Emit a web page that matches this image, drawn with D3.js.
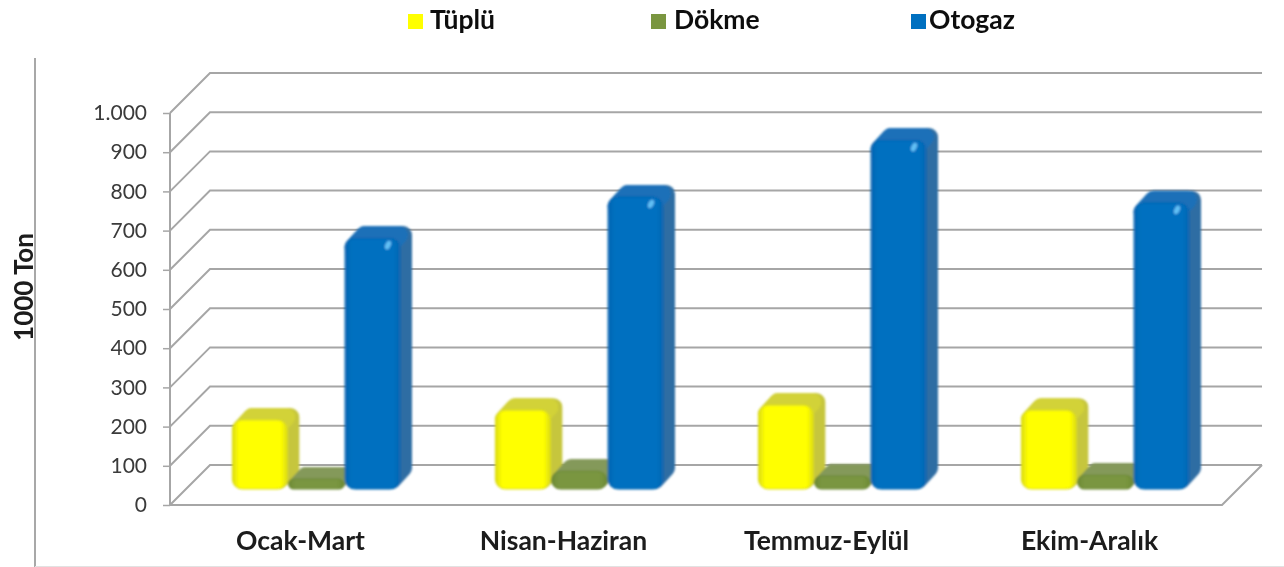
<!DOCTYPE html>
<html><head><meta charset="utf-8">
<script src="https://cdn.jsdelivr.net/npm/d3@7/dist/d3.min.js"></script>
<style>html,body{margin:0;padding:0;background:#fff}svg{display:block}</style>
</head><body><svg id="c" width="1284" height="567"></svg>
<script>
const categories = ["Ocak-Mart","Nisan-Haziran","Temmuz-Eylül","Ekim-Aralık"];
const seriesNames = ["Tüplü","Dökme","Otogaz"];
const tuplu = [176,201,214,201];
const dokme = [25,45,33,35];
const otogaz = [640,745,890,730];
const tickValues = [0,100,200,300,400,500,600,700,800,900,1000];
const tickLabels = ["0","100","200","300","400","500","600","700","800","900","1.000"];
const frontColors = ["#ffff00","#7a963f","#0070c0"];
const edgeColors = ["#dcdc18","#6d8a36","#0a66b2"];
const topColors = ["#d2d238","#84995a","#1c70b8"];
const sideColors = ["#c6c63c","#7c9450","#2f6da3"];
const legendX = [408,651,911];
const legendTextX = [430,674,929];
const font = "Lato,'Open Sans',sans-serif";

const svg = d3.select("#c");
const defs = svg.append("defs");
const mkFilter=(id,sd)=>defs.append("filter").attr("id",id).attr("filterUnits","userSpaceOnUse")
  .attr("x",0).attr("y",0).attr("width",1284).attr("height",567)
  .append("feGaussianBlur").attr("stdDeviation",sd);
mkFilter("soft",0.7); mkFilter("soft2",1.0); mkFilter("txt",0.35);
frontColors.forEach((c,i)=>{
  const g = defs.append("linearGradient").attr("id","g"+i).attr("x1",0).attr("x2",1).attr("y1",0).attr("y2",0);
  g.append("stop").attr("offset","0%").attr("stop-color",edgeColors[i]);
  g.append("stop").attr("offset","12%").attr("stop-color",c);
  g.append("stop").attr("offset","88%").attr("stop-color",c);
  g.append("stop").attr("offset","100%").attr("stop-color",edgeColors[i]);
});

const y = d3.scaleLinear().domain([0,1000]).range([505,113]);
const x0 = d3.scaleBand().domain(categories).range([170,1222]);
const xInner = d3.scaleBand().domain(seriesNames).range([62,231]).padding(0);
const wall = {dx:40, dy:-40};
const bar = {dx:11, dy:-12, base:16};
const gridColor = "#a6a6a6";

// Walls and grid
const grid = svg.append("g").attr("filter","url(#soft)").attr("fill","none").attr("stroke",gridColor).attr("stroke-width",2);
grid.selectAll("path.g").data(tickValues).join("path").attr("class","g")
  .attr("d",d=>d3.line()([[170,y(d)],[170+wall.dx,y(d)+wall.dy],[1222+wall.dx,y(d)+wall.dy]]));
grid.append("path").attr("d",d3.line()([[170,y(0)],[1222,y(0)],[1222+wall.dx,y(0)+wall.dy]]));

// Axis
const axis = d3.axisLeft(y).tickValues(tickValues).tickFormat((d,i)=>tickLabels[i]).tickSize(7).tickPadding(16);
const ag = svg.append("g").attr("filter","url(#txt)").append("g").attr("transform","translate(170,0)").call(axis);
ag.select(".domain").attr("stroke",gridColor).attr("stroke-width",2).attr("d",`M0,${y(1000)}V${y(0)}`);
ag.selectAll(".tick line").attr("stroke",gridColor).attr("stroke-width",1.5);
ag.selectAll(".tick text").attr("font-family",font).attr("font-size",21).attr("fill","#3a3a3a");

// Bars
function drawBar(g,cat,name,i,val){
  const xl = x0(cat)+xInner(name), w = xInner.bandwidth();
  const yb = y(0)-bar.base, yt = y(val)-bar.base;
  const h = yb-yt, r = Math.min(10,h/2);
  const {dx,dy} = bar;
  const b = g.append("g");
  const inset = Math.min(9,h/2);
  b.append("path").attr("fill",sideColors[i]).attr("stroke",sideColors[i]).attr("stroke-width",inset*2).attr("stroke-linejoin","round")
    .attr("d",d3.line()([[xl+inset,yt+inset],[xl+inset+dx,yt+inset+dy],[xl+w-inset+dx,yt+inset+dy],[xl+w-inset+dx,yb-inset+dy],[xl+w-inset,yb-inset]])+"Z");
  b.append("path").attr("fill",topColors[i]).attr("stroke",topColors[i]).attr("stroke-width",inset*2).attr("stroke-linejoin","round")
    .attr("d",d3.line()([[xl+inset,yt+inset],[xl+inset+dx,yt+inset+dy],[xl+w-inset+dx-4,yt+inset+dy],[xl+w-inset-4,yt+inset]])+"Z");
  b.append("rect").attr("x",xl+0.5).attr("y",yt).attr("width",w-1.5).attr("height",h).attr("rx",r).attr("ry",r)
    .attr("fill",`url(#g${i})`).attr("stroke",edgeColors[i]).attr("stroke-width",1.2);
  if(i===2) b.append("ellipse").attr("cx",xl+w-13).attr("cy",yt+7).attr("rx",2.6).attr("ry",4.5)
    .attr("transform",`rotate(25 ${xl+w-13} ${yt+7})`).attr("fill","#62c0f5");
}
const bars = svg.append("g").attr("filter","url(#soft2)");
categories.forEach((c,k)=>{
  [tuplu,dokme,otogaz].forEach((arr,i)=>drawBar(bars,c,seriesNames[i],i,arr[k]));
});

// Category labels
svg.append("g").attr("filter","url(#txt)").selectAll("text").data(categories).join("text")
  .attr("x",d=>x0(d)+x0.bandwidth()/2-1).attr("y",550).attr("text-anchor","middle")
  .attr("font-family",font).attr("font-weight",700).attr("font-size",26.5).attr("fill","#1a1a1a").text(d=>d);

// Axis title
svg.append("g").attr("filter","url(#txt)").append("text").attr("transform","translate(33,287) rotate(-90)").attr("text-anchor","middle")
  .attr("font-family",font).attr("font-weight",700).attr("font-size",26).attr("fill","#1a1a1a").text("1000 Ton");
svg.append("line").attr("x1",35).attr("x2",35).attr("y1",58).attr("y2",567).attr("stroke","#a8a8a8").attr("stroke-width",2).attr("filter","url(#soft)");
svg.append("line").attr("x1",35).attr("x2",1284).attr("y1",566.5).attr("y2",566.5).attr("stroke","#e2e2e2").attr("stroke-width",1);

// Legend
const lg = svg.append("g").selectAll("g").data(seriesNames).join("g");
lg.append("rect").attr("x",(d,i)=>legendX[i]).attr("y",14).attr("width",15).attr("height",15).attr("fill",(d,i)=>frontColors[i]).attr("filter","url(#soft)");
lg.append("text").attr("x",(d,i)=>legendTextX[i]).attr("y",29).attr("font-family",font).attr("font-weight",700).attr("font-size",26.5).attr("fill","#111").attr("filter","url(#txt)").text(d=>d);
</script></body></html>
